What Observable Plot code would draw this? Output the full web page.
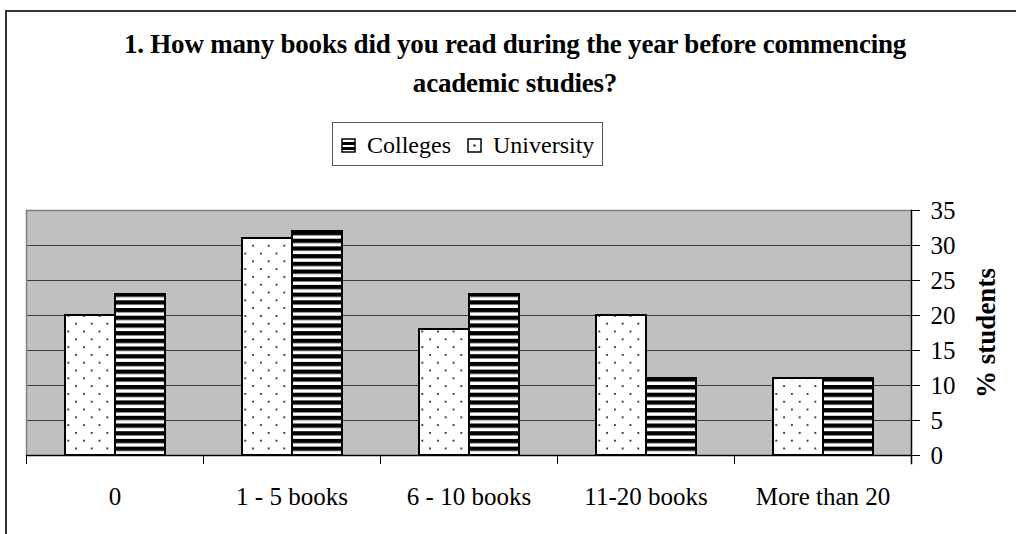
<!DOCTYPE html>
<html>
<head>
<meta charset="utf-8">
<script src="https://cdn.jsdelivr.net/npm/d3@7"></script>
<script src="https://cdn.jsdelivr.net/npm/@observablehq/plot@0.6"></script>
<style>
  html, body { margin: 0; padding: 0; background: #fff; }
  #wrap { position: relative; width: 1016px; height: 534px; overflow: hidden; font-family: "Liberation Serif", "Times New Roman", serif; color: #000; }
  #border { position: absolute; left: 5px; top: 10px; right: -10px; bottom: -10px; border-top: 2px solid #333; border-left: 2px solid #333; }
  #title { position: absolute; left: 115px; width: 800px; top: 25px; text-align: center; font-weight: bold; font-size: 27px; line-height: 39px; letter-spacing: -0.2px; }
  #legend { position: absolute; left: 332px; top: 122px; width: 271px; height: 44px; box-sizing: border-box; border: 1px solid #555; background: #fff; }
  .lg-text { position: absolute; font-size: 24px; line-height: 24px; top: 10px; white-space: nowrap; }
  .lg-sw { position: absolute; top: 15px; }
  #chart { position: absolute; left: 0; top: 0; }
</style>
</head>
<body>
<div id="wrap">
  <div id="border"></div>
  <div id="chart"></div>
  <div id="title">1. How many books did you read during the year before commencing<br>academic studies?</div>
  <div id="legend"></div>
</div>
<script>
const categories = ["0", "1 - 5 books", "6 - 10 books", "11-20 books", "More than 20"];
const series = ["University", "Colleges"];
const university = [20, 31, 18, 20, 11];
const colleges = [23, 32, 23, 11, 11];
const yTicks = [0, 5, 10, 15, 20, 25, 30, 35];
const legendOrder = ["Colleges", "University"];
const yLabel = "% students";

const patternIds = {University: "pat-dots", Colleges: "pat-stripes"};

const data = categories.flatMap((c, i) => [
  {category: c, series: "University", value: university[i]},
  {category: c, series: "Colleges", value: colleges[i]}
]);

const chart = Plot.plot({
  width: 1016,
  height: 534,
  marginLeft: 24,
  marginRight: 104,
  marginTop: 210,
  marginBottom: 79,
  style: {fontFamily: "'Liberation Serif', 'Times New Roman', serif", fontSize: "25px", color: "#000", background: "transparent", overflow: "visible"},
  fx: {domain: categories, padding: 0, label: null},
  x: {domain: series, paddingInner: 0, paddingOuter: 0.741, axis: null},
  y: {domain: [0, 35], label: null},
  color: {domain: series, range: series.map(s => `url(#${patternIds[s]})`)},
  marks: [
    Plot.frame({facet: "super", fill: "#c0c0c0", stroke: null}),
    Plot.ruleY(yTicks.filter(t => t > 0 && t < 35), {stroke: "#3c3c3c", strokeWidth: 1}),
    Plot.ruleY([35], {stroke: "#808080", strokeWidth: 1.5}),
    Plot.frame({facet: "super", anchor: "left", stroke: "#808080", strokeWidth: 1.5}),
    Plot.barY(data, {fx: "category", x: "series", y: "value", fill: "series", stroke: "#000", strokeWidth: 2}),
    Plot.ruleY([0], {stroke: "#000", strokeWidth: 1.5}),
    Plot.frame({anchor: "left", insetTop: 245, insetBottom: -8, stroke: "#000", strokeWidth: 1}),
    Plot.frame({facet: "super", anchor: "right", insetBottom: -8, stroke: "#000", strokeWidth: 1.5}),
    Plot.axisY({ticks: yTicks, anchor: "right", tickSize: 8, tickPadding: 11, label: null, fontSize: 25, stroke: "#000"}),
    Plot.axisFx({anchor: "bottom", tickSize: 0, tickPadding: 32, label: null, fontSize: 25}),
    Plot.text([yLabel], {facet: "super", text: d => d, frameAnchor: "right", textAnchor: "middle", dx: 75, rotate: -90, fontWeight: "bold", fontSize: 27})
  ]
});

d3.select(chart).insert("defs", ":first-child").html(`
  <pattern id="pat-stripes" patternUnits="userSpaceOnUse" width="8" height="7.7">
    <rect width="8" height="7.7" fill="#fff"></rect>
    <rect width="8" height="4.3" fill="#000"></rect>
  </pattern>
  <pattern id="pat-dots" patternUnits="userSpaceOnUse" width="15.6" height="15.6">
    <rect width="15.6" height="15.6" fill="#fff"></rect>
    <rect x="3" y="3" width="1.8" height="1.8" fill="#222"></rect>
    <rect x="10.8" y="10.8" width="1.8" height="1.8" fill="#222"></rect>
  </pattern>
`);
document.getElementById("chart").appendChild(chart);

// legend
const legend = d3.select("#legend");
const lgPos = {Colleges: {sw: 8, tx: 34}, University: {sw: 134, tx: 160}};
legendOrder.forEach(s => {
  const sw = legend.append("svg").attr("class", "lg-sw").attr("width", 15).attr("height", 15)
    .style("left", lgPos[s].sw + "px");
  sw.append("rect").attr("x", 1).attr("y", 1).attr("width", 13).attr("height", 13)
    .attr("fill", "#fff").attr("stroke", "#000").attr("stroke-width", 1.5);
  if (s === "Colleges") {
    sw.append("rect").attr("x", 1).attr("y", 4).attr("width", 13).attr("height", 3).attr("fill", "#000");
    sw.append("rect").attr("x", 1).attr("y", 9).attr("width", 13).attr("height", 3).attr("fill", "#000");
  } else {
    sw.append("rect").attr("x", 6.5).attr("y", 6.5).attr("width", 2).attr("height", 2).attr("fill", "#000");
  }
  legend.append("span").attr("class", "lg-text").style("left", lgPos[s].tx + "px").text(s);
});
</script>
</body>
</html>
